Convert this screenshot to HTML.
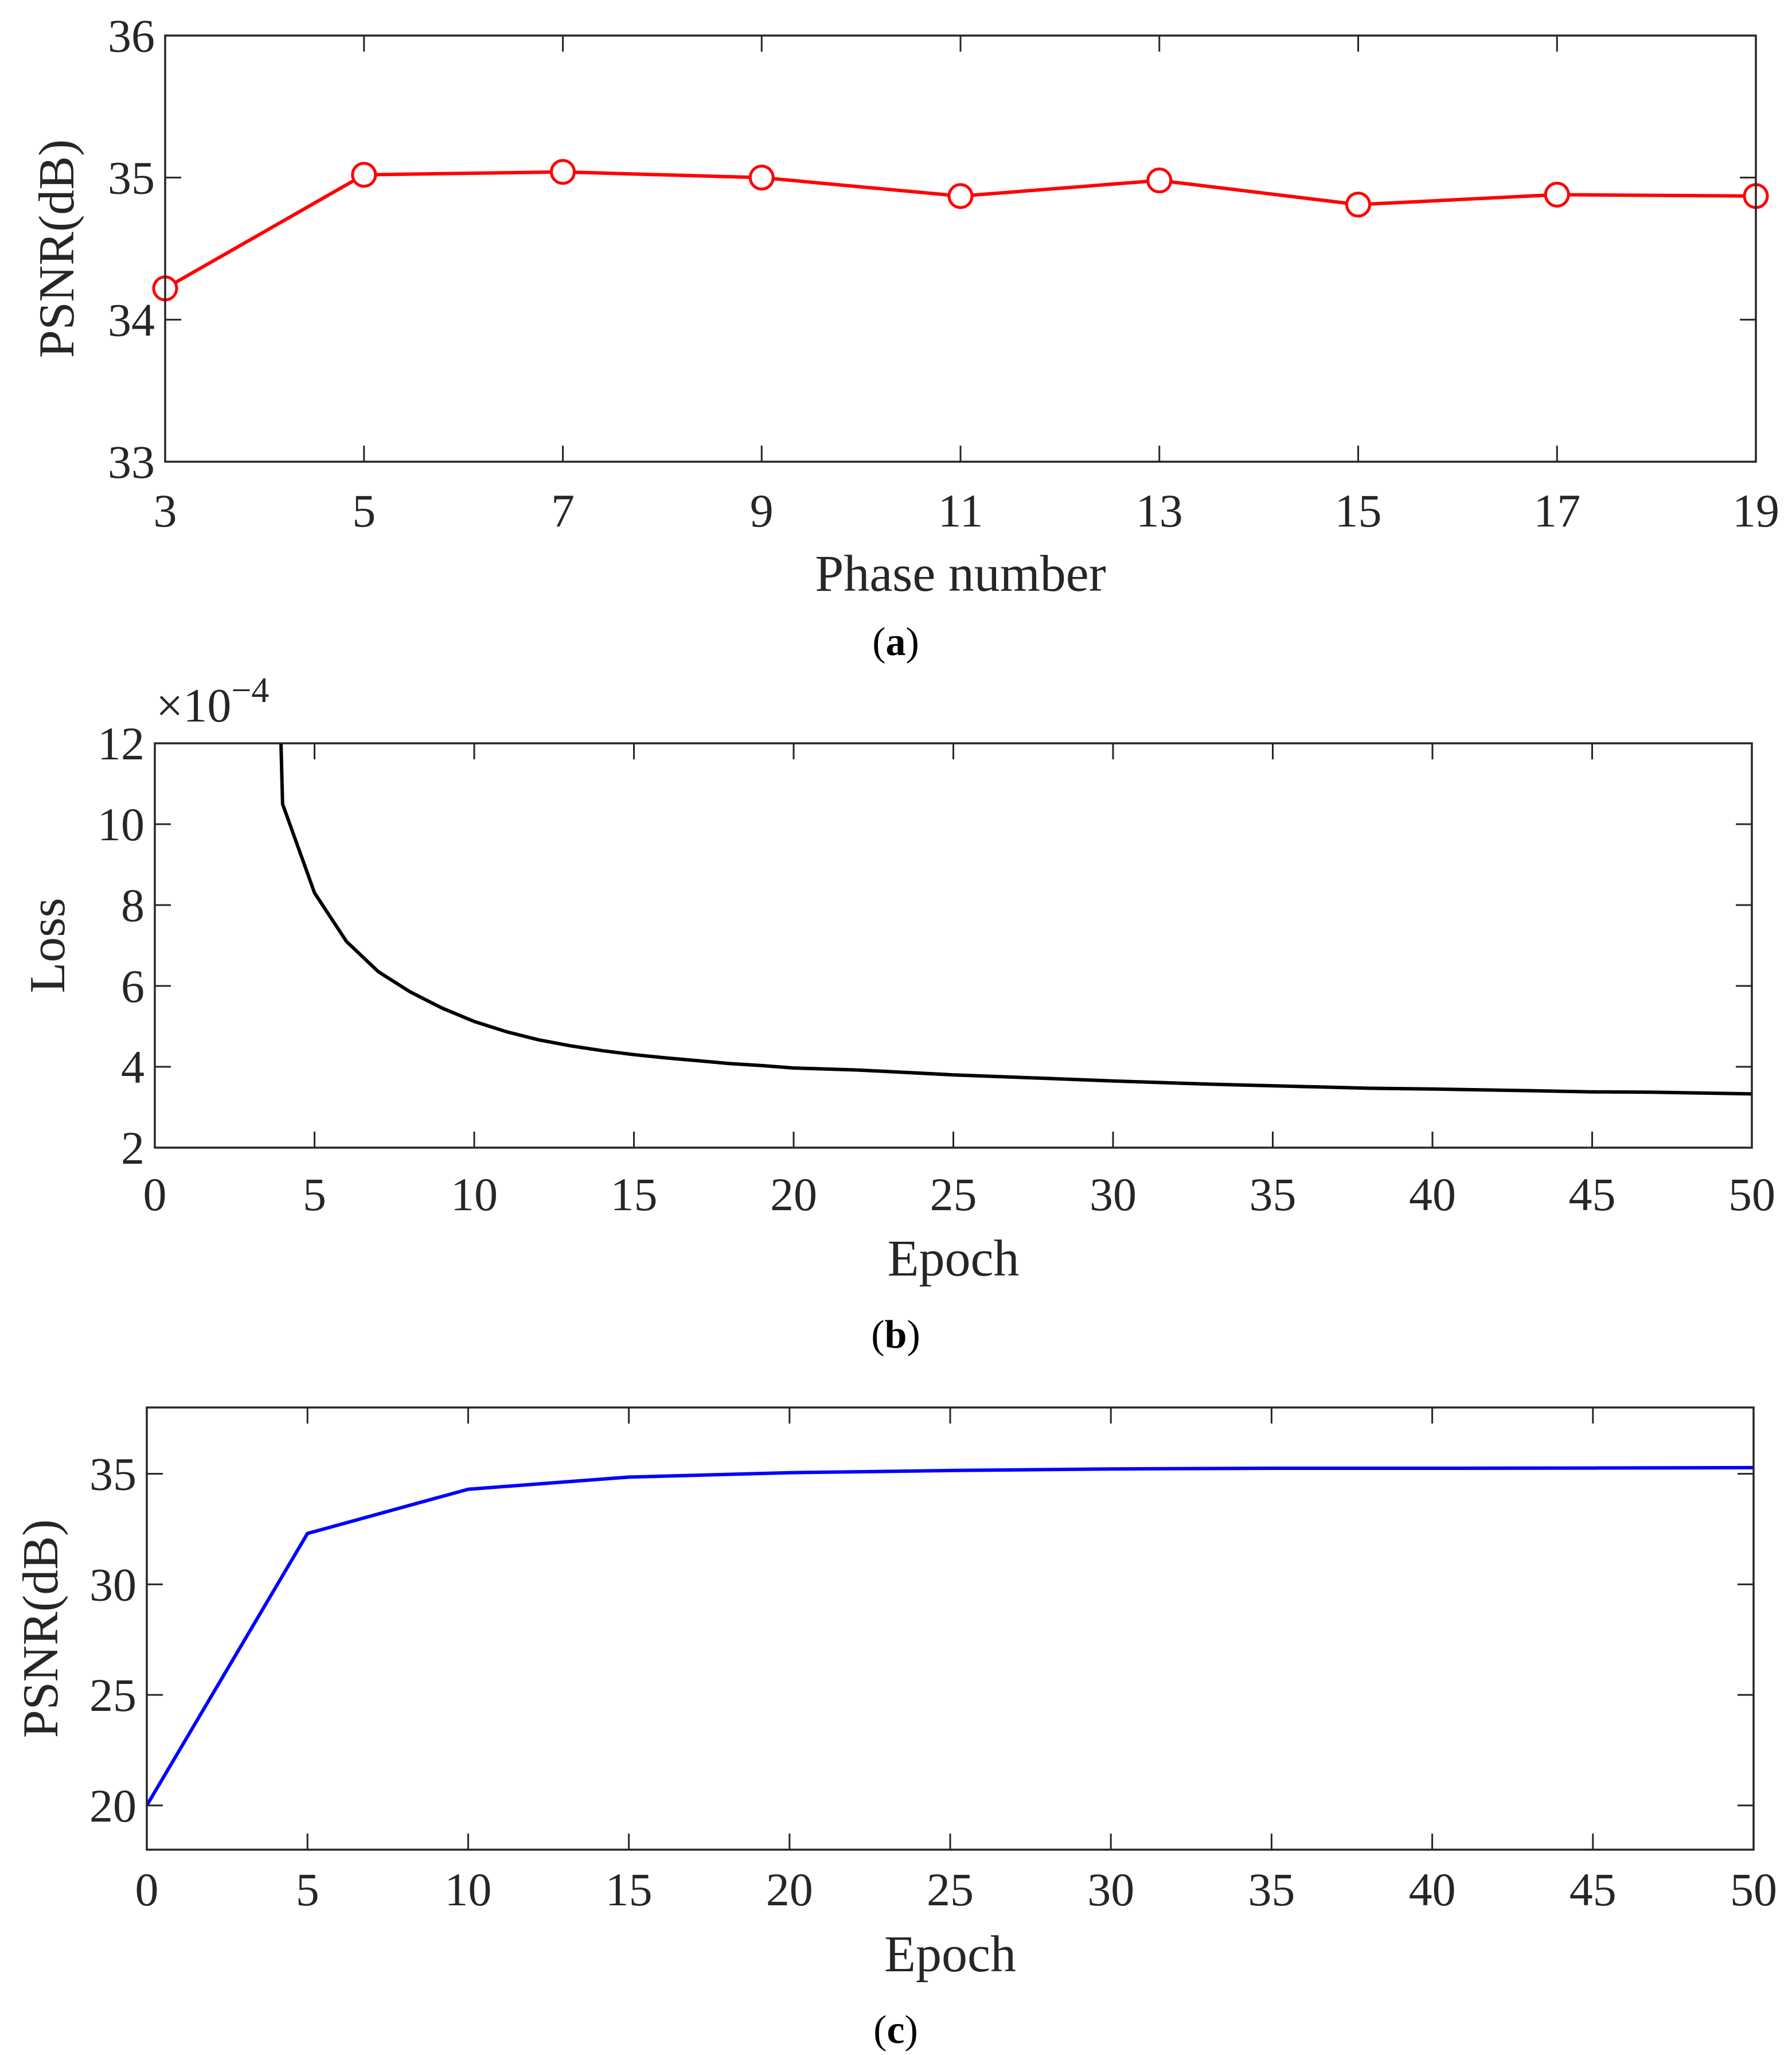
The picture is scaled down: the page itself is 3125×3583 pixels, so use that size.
<!DOCTYPE html>
<html><head><meta charset="utf-8"><style>
html,body{margin:0;padding:0;background:#fff;}
svg{display:block;font-family:"Liberation Serif",serif;}
</style></head><body>
<svg id="fig" width="3125" height="3583" viewBox="0 0 3125 3583" xmlns="http://www.w3.org/2000/svg"></svg>
<script>
// Panel (a)
const phaseNumbers = [3,5,7,9,11,13,15,17,19];
const phasePsnr = [34.22,35.02,35.04,35.00,34.87,34.98,34.81,34.88,34.87];
const aYTicks = [33,34,35,36];
// Panel (b)
const lossEpochs = [3,4,5,6,7,8,9,10,11,12,13,14,15,16,17,18,19,20,22,25,28,30,33,35,38,40,43,45,47,50];
const lossValues = [40,10.5,8.3,7.1,6.35,5.85,5.45,5.12,4.87,4.67,4.52,4.40,4.30,4.22,4.15,4.08,4.03,3.97,3.92,3.80,3.71,3.65,3.57,3.53,3.47,3.45,3.41,3.38,3.37,3.33];
const bYTicks = [2,4,6,8,10,12];
const epochTicks = [0,5,10,15,20,25,30,35,40,45,50];
// Panel (c)
const psnrEpochs = [0,5,10,15,20,25,30,35,40,45,50];
const psnrValues = [20,32.3,34.3,34.85,35.05,35.15,35.22,35.25,35.25,35.26,35.28];
const cYTicks = [20,25,30,35];

const NS="http://www.w3.org/2000/svg";
const svg=document.getElementById('fig');
function mk(tag,attrs,parent){const e=document.createElementNS(NS,tag);for(const k in attrs)e.setAttribute(k,attrs[k]);(parent||svg).appendChild(e);return e;}
function txt(str,attrs,parent){const t=mk('text',attrs,parent);t.textContent=str;return t;}

function panel(o){
  const g=mk('g',{});
  
  
  const sx=v=>o.L+(v-o.x0)/(o.x1-o.x0)*(o.R-o.L);
  const sy=v=>o.B-(v-o.y0)/(o.y1-o.y0)*(o.B-o.T);
  const clipId='clip-'+o.name;
  const cp=mk('clipPath',{id:clipId},g);
  mk('rect',{x:o.L,y:o.T,width:o.R-o.L,height:o.B-o.T},cp);
  const pts=o.xs.map((x,i)=>sx(x).toFixed(1)+','+sy(o.ys[i]).toFixed(1)).join(' ');
  const line=mk('polyline',{points:pts,fill:'none',stroke:o.color,'stroke-width':o.lw,'stroke-linejoin':'round','clip-path':'url(#'+clipId+')'},g);
  
  
  if(o.markers){
    o.xs.forEach((x,i)=>{
      const c=mk('circle',{cx:sx(x),cy:sy(o.ys[i]),r:20,fill:'#fff',stroke:o.color,'stroke-width':5},g);
      
      
    });
  }
  const box=mk('rect',{x:o.L,y:o.T,width:o.R-o.L,height:o.B-o.T,fill:'none',stroke:'#262626','stroke-width':3.5},g);
  
  
  const tl=28;
  o.xt.forEach(v=>{
    const x=sx(v);
    mk('line',{x1:x,y1:o.B,x2:x,y2:o.B-tl,stroke:'#262626','stroke-width':3},g);
    mk('line',{x1:x,y1:o.T,x2:x,y2:o.T+tl,stroke:'#262626','stroke-width':3},g);
    const t=txt(String(v),{x:x,y:o.xly,'font-size':82,'text-anchor':'middle',fill:'#262626'},g);
    
    
  });
  o.yt.forEach(v=>{
    const y=sy(v);
    mk('line',{x1:o.L,y1:y,x2:o.L+tl,y2:y,stroke:'#262626','stroke-width':3},g);
    mk('line',{x1:o.R,y1:y,x2:o.R-tl,y2:y,stroke:'#262626','stroke-width':3},g);
    const t=txt(String(v),{x:o.L-18,y:y+28,'font-size':82,'text-anchor':'end',fill:'#262626'},g);
    
    
  });
  const xl=txt(o.xlabel,{x:(o.L+o.R)/2,y:o.xlaby,'font-size':90,'text-anchor':'middle',fill:'#262626'},g);
  
  
  const yl=txt(o.ylabel,{x:0,y:0,'font-size':88,'text-anchor':'middle',fill:'#262626',transform:'translate('+o.ylx+','+((o.T+o.B)/2)+') rotate(-90)'},g);
  
  
  const cap=txt('',{x:1562,y:o.capy,'font-size':70,'text-anchor':'middle',fill:'#000'},g);
  
  
  cap.appendChild(document.createTextNode('('));
  const b=mk('tspan',{'font-weight':'bold'},cap);b.textContent=o.cap;
  cap.appendChild(document.createTextNode(')'));
  return g;
}

panel({name:'panel-a',L:288,R:3062,T:62,B:805,x0:3,x1:19,y0:33,y1:36,xs:phaseNumbers,ys:phasePsnr,xt:phaseNumbers,yt:aYTicks,color:'#ff0000',lw:6,markers:true,xly:918,xlaby:1030,xlabel:'Phase number',ylabel:'PSNR(dB)',ylx:128,capy:1142,cap:'a'});
panel({name:'panel-b',L:270,R:3055,T:1296,B:2001,x0:0,x1:50,y0:2,y1:12,xs:lossEpochs,ys:lossValues,xt:epochTicks,yt:bYTicks,color:'#000000',lw:6,markers:false,xly:2110,xlaby:2224,xlabel:'Epoch',ylabel:'Loss',ylx:112,capy:2350,cap:'b'});
panel({name:'panel-c',L:256,R:3058,T:2454,B:3225,x0:0,x1:50,y0:18,y1:38,xs:psnrEpochs,ys:psnrValues,xt:epochTicks,yt:cYTicks,color:'#0000ff',lw:6,markers:false,xly:3322,xlaby:3437,xlabel:'Epoch',ylabel:'PSNR(dB)',ylx:100,capy:3562,cap:'c'});

const exp=txt('×10',{x:272,y:1258,'font-size':84,fill:'#262626'});


const sup=mk('tspan',{dy:-34,'font-size':62},exp);sup.textContent='−4';
</script>
</body></html>
